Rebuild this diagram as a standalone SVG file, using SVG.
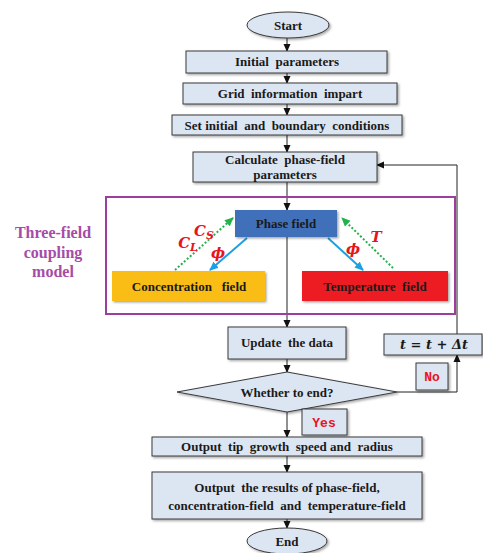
<svg xmlns="http://www.w3.org/2000/svg" width="483" height="553" viewBox="0 0 483 553">
<style>
.box{fill:#dce6f2;stroke:#3a3a3a;stroke-width:1}
.t{font-family:"Times New Roman","Liberation Serif","DejaVu Serif",serif;font-weight:bold;font-size:13px;fill:#1a1a1a;text-anchor:middle;white-space:pre}
.ln{stroke:#222;stroke-width:1;fill:none}
.lab{font-family:"Liberation Mono","DejaVu Sans Mono",monospace;font-weight:bold;font-size:13px;fill:#e8141c;text-anchor:middle}
.math{font-family:"DejaVu Serif",serif;font-style:italic;font-weight:bold;font-size:15px;fill:#e8141c;text-anchor:middle}
</style>
<defs>
<marker id="ah" markerWidth="8" markerHeight="8" refX="7" refY="4" orient="auto" markerUnits="userSpaceOnUse"><path d="M0,0.5 L8,4 L0,7.5 z" fill="#111"/></marker>
<marker id="ab" markerWidth="9" markerHeight="9" refX="8" refY="4.5" orient="auto" markerUnits="userSpaceOnUse"><path d="M0,0.5 L9,4.5 L0,8.5 z" fill="#1ba1e2"/></marker>
<marker id="ag" markerWidth="9" markerHeight="9" refX="8" refY="4.5" orient="auto" markerUnits="userSpaceOnUse"><path d="M0,0.5 L9,4.5 L0,8.5 z" fill="#22b14c"/></marker>
<filter id="sh" x="-10%" y="-20%" width="120%" height="150%"><feDropShadow dx="1.5" dy="1.5" stdDeviation="0.8" flood-color="#000" flood-opacity="0.35"/></filter>
</defs>

<g id="connectors">
<line class="ln" x1="287" y1="38" x2="287" y2="51" marker-end="url(#ah)"/>
<line class="ln" x1="287" y1="73" x2="287" y2="83" marker-end="url(#ah)"/>
<line class="ln" x1="287" y1="104" x2="287" y2="115" marker-end="url(#ah)"/>
<line class="ln" x1="287" y1="135" x2="287" y2="152" marker-end="url(#ah)"/>
<line class="ln" x1="287" y1="182" x2="287" y2="210" marker-end="url(#ah)"/>
<line class="ln" x1="287" y1="237" x2="287" y2="327" marker-end="url(#ah)"/>
<line class="ln" x1="287" y1="359" x2="287" y2="372" marker-end="url(#ah)"/>
<line class="ln" x1="287" y1="412" x2="287" y2="437" marker-end="url(#ah)"/>
<line class="ln" x1="287" y1="456" x2="287" y2="472" marker-end="url(#ah)"/>
<line class="ln" x1="287" y1="519" x2="287" y2="528" marker-end="url(#ah)"/>
<polyline class="ln" points="397,392 457,392 457,355" marker-end="url(#ah)"/>
<polyline class="ln" points="457,334 457,165 377,165" marker-end="url(#ah)"/>
<line x1="247" y1="238" x2="210" y2="270" stroke="#1ba1e2" stroke-width="2" marker-end="url(#ab)"/>
<line x1="328" y1="238" x2="363" y2="270" stroke="#1ba1e2" stroke-width="2" marker-end="url(#ab)"/>
<line x1="175" y1="270" x2="233" y2="218" stroke="#22b14c" stroke-width="2" stroke-dasharray="2,2" marker-end="url(#ag)"/>
<line x1="393" y1="268" x2="342" y2="218" stroke="#22b14c" stroke-width="2" stroke-dasharray="2,2" marker-end="url(#ag)"/>
</g>

<g id="coupling-frame">
<rect x="106" y="197" width="349" height="117" fill="none" stroke="#9b3f9b" stroke-width="2"/>
<text font-family="'Times New Roman','Liberation Serif','DejaVu Serif',serif" font-weight="bold" font-size="16px" fill="#a64ca6" text-anchor="middle"><tspan x="53" y="238">Three-field</tspan><tspan x="53" y="258">coupling</tspan><tspan x="53" y="277">model</tspan></text>
</g>

<g id="start"><ellipse cx="288" cy="25" rx="41" ry="13" class="box" filter="url(#sh)"/><text class="t" x="288" y="30">Start</text></g>
<g id="init"><rect x="186" y="51" width="201" height="22" class="box" filter="url(#sh)"/><text class="t" x="287" y="66">Initial  parameters</text></g>
<g id="grid"><rect x="183" y="83" width="214" height="21" class="box" filter="url(#sh)"/><text class="t" x="290" y="98">Grid  information  impart</text></g>
<g id="setcond"><rect x="172" y="115" width="230" height="20" class="box" filter="url(#sh)"/><text class="t" x="287" y="130">Set initial  and  boundary  conditions</text></g>
<g id="calc"><rect x="193" y="152" width="184" height="30" class="box" filter="url(#sh)"/><text class="t" x="285" y="164">Calculate  phase-field</text><text class="t" x="285" y="179">parameters</text></g>

<g id="phase"><rect x="235" y="210" width="102" height="27" fill="#3f6fba" filter="url(#sh)"/><text class="t" x="286" y="228">Phase field</text></g>
<g id="conc"><rect x="112" y="271" width="153" height="30" fill="#f9bd14" filter="url(#sh)"/><text class="t" x="189" y="291">Concentration   field</text></g>
<g id="temp"><rect x="302" y="271" width="146" height="30" fill="#ec1c24" filter="url(#sh)"/><text class="t" x="375" y="291">Temperature  field</text></g>

<g id="symbols">
<text class="math" x="204" y="236">C<tspan font-size="11px" dy="3">S</tspan></text>
<text class="math" x="188" y="248">C<tspan font-size="11px" dy="3">L</tspan></text>
<text class="math" x="218" y="258">ϕ</text>
<text class="math" x="353" y="254">ϕ</text>
<text class="math" x="376" y="242">T</text>
</g>

<g id="update"><rect x="228" y="327" width="118" height="32" class="box" filter="url(#sh)"/><text class="t" x="287" y="347">Update  the data</text></g>
<g id="tstep"><rect x="384" y="334" width="98" height="21" class="box" filter="url(#sh)"/><text x="434" y="349" font-family="'DejaVu Serif',serif" font-style="italic" font-weight="bold" font-size="13px" fill="#1a1a1a" text-anchor="middle" style="white-space:pre">t = t + Δt</text></g>
<g id="no"><rect x="416" y="363" width="32" height="27" class="box" filter="url(#sh)"/><text class="lab" x="432" y="381">No</text></g>
<g id="decide"><polygon points="177,392 287,372 397,392 287,412" class="box" filter="url(#sh)"/><text class="t" x="287" y="397">Whether to end?</text></g>
<g id="yes"><rect x="302" y="409" width="45" height="26" class="box" filter="url(#sh)"/><text class="lab" x="324" y="427">Yes</text></g>
<g id="tip"><rect x="152" y="437" width="270" height="19" class="box" filter="url(#sh)"/><text class="t" x="287" y="451">Output  tip  growth  speed and  radius</text></g>
<g id="results"><rect x="152" y="472" width="270" height="47" class="box" filter="url(#sh)"/><text class="t" x="287" y="492">Output  the results of phase-field,</text><text class="t" x="287" y="510">concentration-field  and  temperature-field</text></g>
<g id="end"><ellipse cx="287" cy="541" rx="40" ry="13" class="box" filter="url(#sh)"/><text class="t" x="287" y="546">End</text></g>
</svg>
